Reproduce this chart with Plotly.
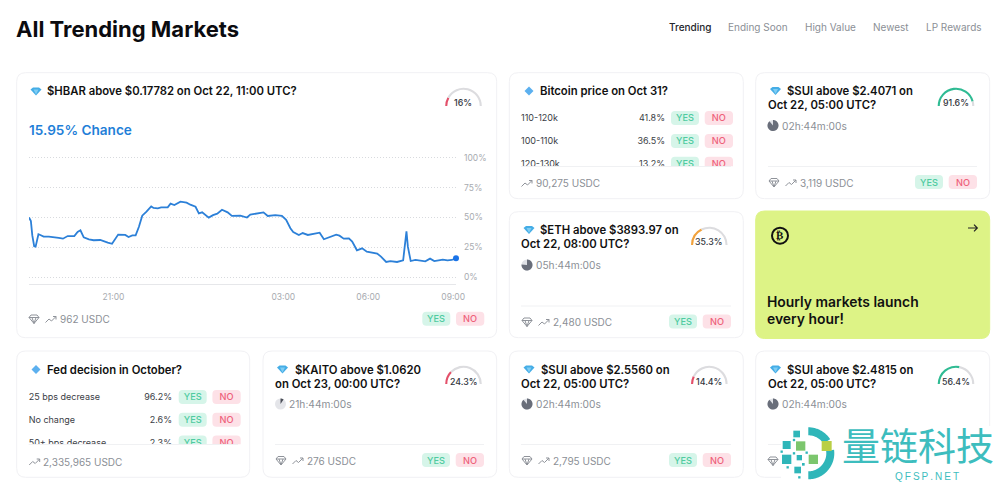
import math
import plotly.graph_objects as go

# hbar chance history
times_oct21 = ["18:01", "18:05", "18:08", "18:12", "18:15", "18:18", "18:21", "18:25", "18:32", "18:43",
               "18:54", "19:04", "19:13", "19:23", "19:37", "19:44", "19:50", "19:57", "20:08", "20:18",
               "20:32", "20:40", "20:48", "20:57", "21:04", "21:10", "21:25", "21:32", "21:40", "21:47",
               "21:54", "22:01", "22:10", "22:20", "22:25", "22:34", "22:41", "22:55", "23:01", "23:09",
               "23:22", "23:35", "23:43", "23:54"]
times_oct22 = ["00:01", "00:08", "00:22", "00:31", "00:40", "00:50", "01:02", "01:11", "01:29", "01:43",
               "01:50", "02:04", "02:18", "02:27", "02:43", "02:57", "03:06", "03:15", "03:21", "03:33",
               "03:41", "03:52", "04:04", "04:17", "04:26", "04:40", "04:52", "04:59", "05:08", "05:19",
               "05:26", "05:36", "05:47", "05:57", "06:08", "06:19", "06:27", "06:38", "06:47", "07:01",
               "07:14", "07:17", "07:21", "07:24", "07:30", "07:40", "07:50", "08:01", "08:11", "08:20",
               "08:29", "08:38", "08:48", "08:57", "09:06"]
chance = [50, 47, 35, 26, 25.6, 31, 36, 35.4, 34, 34,
          33.7, 33, 32.3, 34.5, 34.5, 38, 39.3, 33.4, 31.8, 31,
          31.2, 30.4, 29, 28, 31.8, 35.7, 35.4, 33.7, 35, 35,
          42.3, 51.5, 54.9, 59.3, 58, 57.7, 58.5, 58.5, 61.6, 60.4,
          63.2, 62.4, 60.7, 59,
          53.5, 54.3, 49.9, 52, 53.2, 56.5, 54.3, 51.3, 51.5, 50,
          52.4, 53.2, 54.3, 51.3, 52, 51.3, 48, 41, 37.9, 35.4,
          37, 35.4, 36.2, 37.3, 31.8, 34, 35.7, 34.8, 32.3, 32.6,
          29.8, 22.6, 24.2, 21.4, 20.6, 19.8, 17.3, 12.8, 13.6, 12.8,
          14.2, 22.8, 38.4, 25.6, 13.6, 14.5, 14.2, 13.4, 15.6, 13.6,
          14.2, 14.8, 14.2, 14.5, 15.95]
x_ticks = ["2025-10-21 21:00", "2025-10-22 03:00", "2025-10-22 06:00", "2025-10-22 09:00"]
x_labels = ["21:00", "03:00", "06:00", "09:00"]
y_ticks = [0, 25, 50, 75, 100]
y_labels = ["0%", "25%", "50%", "75%", "100%"]

nav_items = ["Trending", "Ending Soon", "High Value", "Newest", "LP Rewards"]
gauge_values = [16, 91.6, 35.3, 24.3, 14.4, 56.4]
gauge_labels = ["16%", "91.6%", "35.3%", "24.3%", "14.4%", "56.4%"]
btc_rows = ["110-120k", "100-110k", "120-130k"]
btc_pcts = ["41.8%", "36.5%", "13.2%"]
fed_rows = ["25 bps decrease", "No change", "50+ bps decrease"]
fed_pcts = ["96.2%", "2.6%", "2.3%"]

TEAL, GREEN, OLIVE = "#2fb6b9", "#7cc66d", "#b9cf45"
YES_BG, YES_FG, NO_BG, NO_FG = "#d6f5e9", "#4fcba0", "#fde1e7", "#ee6079"
GREY = "#8b8f96"
FONT = "Inter"
TITLE_SIZE = 11.3

shapes = []
notes = []


def rrect(x0, y0, x1, y1, r):
    return (f"M{x0+r},{y0} L{x1-r},{y0} Q{x1},{y0} {x1},{y0+r} L{x1},{y1-r} Q{x1},{y1} {x1-r},{y1} "
            f"L{x0+r},{y1} Q{x0},{y1} {x0},{y1-r} L{x0},{y0+r} Q{x0},{y0} {x0+r},{y0} Z")


def add_path(path, fill=None, line=None, width=1, layer="below"):
    shapes.append(dict(type="path", path=path, xref="x", yref="y", layer=layer,
                       fillcolor=fill or "rgba(0,0,0,0)",
                       line=dict(color=line or "rgba(0,0,0,0)", width=width if line else 0)))


def wedge(cx, cy, r, start, end):
    pts = [(cx + r * math.cos(math.radians(a)), cy + r * math.sin(math.radians(a)))
           for a in [start + (end - start) * i / 40 for i in range(41)]]
    return f"M{cx},{cy} " + " ".join(f"L{x:.2f},{y:.2f}" for x, y in pts) + " Z"


def band(cx, cy, r0, r1, start, end):
    angles = [start + (end - start) * i / 40 for i in range(41)]
    outer = [(cx + r1 * math.cos(math.radians(a)), cy + r1 * math.sin(math.radians(a))) for a in angles]
    inner = [(cx + r0 * math.cos(math.radians(a)), cy + r0 * math.sin(math.radians(a))) for a in reversed(angles)]
    pts = outer + inner
    return f"M{pts[0][0]:.2f},{pts[0][1]:.2f} " + " ".join(f"L{x:.2f},{y:.2f}" for x, y in pts[1:]) + " Z"


def txt(x, y, s, size=11, color="#111", weight=400, anchor="left", family=FONT):
    notes.append(dict(x=x, y=y, xref="x", yref="y", text=s, showarrow=False, xanchor=anchor, yanchor="middle",
                      borderpad=0, borderwidth=0, font=dict(family=family, size=size, color=color, weight=weight)))


def card(x0, y0, x1, y1, fill="white", line="#f1f1f4"):
    add_path(rrect(x0, y0, x1, y1, 9), fill=fill, line=line)


def pills(x, y):
    # x = left edge of YES, y = centre line
    add_path(rrect(x, y - 7, x + 28, y + 7, 4), fill=YES_BG)
    add_path(rrect(x + 33.7, y - 7, x + 62, y + 7, 4), fill=NO_BG)


def pill_text(x, y):
    txt(x + 14, y, "YES", 9.2, YES_FG, 500, "center")
    txt(x + 47.8, y, "NO", 9.2, NO_FG, 500, "center")


def gem(cx, cy):
    add_path(f"M{cx-5.5},{cy-2} L{cx-3},{cy-4} L{cx+3},{cy-4} L{cx+5.5},{cy-2} L{cx},{cy+4} Z", fill="#45ade6")
    add_path(f"M{cx-2.5},{cy-2} L{cx+2.5},{cy-2} L{cx},{cy+3} Z", fill="#7fcdf3")


def small_diamond(cx, cy):
    add_path(f"M{cx},{cy-4.5} L{cx+4.5},{cy} L{cx},{cy+4.5} L{cx-4.5},{cy} Z", fill="#5cb0ef")


def gem_outline(cx, cy):
    add_path(f"M{cx-5},{cy-1.5} L{cx-3},{cy-4} L{cx+3},{cy-4} L{cx+5},{cy-1.5} L{cx},{cy+4.5} Z "
             f"M{cx-5},{cy-1.5} L{cx+5},{cy-1.5} M{cx-2},{cy-1.5} L{cx},{cy+4.5} L{cx+2},{cy-1.5}",
             line="#8f939a", width=1)


def trend(cx, cy):
    add_path(f"M{cx-5.5},{cy+3} L{cx-2},{cy-0.5} L{cx+0.5},{cy+1.5} L{cx+5},{cy-3} M{cx+2},{cy-3} L{cx+5},{cy-3} L{cx+5},{cy}",
             line="#8f939a", width=1)


def clock(cx, cy, dark_share, light="#dfe1e6", dark="#696e7a"):
    shapes.append(dict(type="circle", xref="x", yref="y", x0=cx - 5.5, x1=cx + 5.5, y0=cy - 5.5, y1=cy + 5.5,
                       fillcolor=light, line=dict(width=0), layer="below"))
    add_path(wedge(cx, cy, 5.5, -90, -90 + 360 * dark_share), fill=dark)


def footer(x, y, volume, with_gem=True):
    if with_gem:
        gem_outline(x + 6, y)
        trend(x + 23, y + 0.5)
        txt(x + 31.5, y, volume, 10, GREY)
    else:
        trend(x + 6, y + 0.5)
        txt(x + 14.5, y, volume, 10, GREY)


def divider(x0, x1, y, layer="below"):
    shapes.append(dict(type="line", xref="x", yref="y", x0=x0, x1=x1, y0=y, y1=y, layer=layer,
                       line=dict(color="#f0f1f3", width=1)))


fig = go.Figure()

times = [f"2025-10-21 {t}" for t in times_oct21] + [f"2025-10-22 {t}" for t in times_oct22]

# ---- cards
card(16.7, 72.7, 496.7, 337.7)
card(509.3, 72.7, 743.3, 198.7)
card(755.7, 72.7, 989.7, 198.7)
card(509.3, 211.7, 743.3, 337.7)
card(755.7, 211, 989.7, 338.5, fill="#ddf386", line="#ddf386")
card(16.7, 351, 249.7, 477.3)
card(263, 351, 496.7, 477.3)
card(509.3, 351, 743.3, 477.3)
card(755.7, 351, 989.7, 477.3)

# ---- header
txt(16, 29, "All Trending Markets", 22, "#0b0b0f", 700)
for name, nx, c in zip(nav_items, [669, 728, 805, 873, 926], ["#23252b"] + ["#8b8f96"] * 4):
    txt(nx, 26.5, name, 10, c, 500 if c == "#23252b" else 400)

# ---- HBAR card
gem(36, 91.5)
txt(47, 91, "$HBAR above $0.17782 on Oct 22, 11:00 UTC?", TITLE_SIZE, "#111", 600)
txt(29, 130, "15.95% Chance", 13.6, "#1f7fd8", 600)
footer(28, 319, "962 USDC")
pills(422.3, 318.7)
pill_text(422.3, 318.7)

# ---- Bitcoin and Fed cards, third row gets cut off by the white strip
small_diamond(529, 91)
txt(540, 91, "Bitcoin price on Oct 31?", TITLE_SIZE, "#111", 600)
small_diamond(36, 369.5)
txt(47, 369.5, "Fed decision in October?", TITLE_SIZE, "#111", 600)

clip_left = dict(x=[], y=[], text=[])
clip_right = dict(x=[], y=[], text=[])
clip_yes = dict(x=[], y=[], text=[])
clip_no = dict(x=[], y=[], text=[])
for rows, pcts, lx, px, bx, y_rows in [(btc_rows, btc_pcts, 521, 665, 671, [118, 141, 163.7]),
                                       (fed_rows, fed_pcts, 28.7, 172, 178.7, [397, 419.7, 442.5])]:
    for label, pct, y in zip(rows, pcts, y_rows):
        pills(bx, y)
        clip_left["x"].append(lx); clip_left["y"].append(y + 1); clip_left["text"].append(label)
        clip_right["x"].append(px); clip_right["y"].append(y + 1); clip_right["text"].append(pct)
        clip_yes["x"].append(bx + 14); clip_yes["y"].append(y + 1); clip_yes["text"].append("YES")
        clip_no["x"].append(bx + 47.8); clip_no["y"].append(y + 1); clip_no["text"].append("NO")

for group, pos, color, size, weight in [(clip_left, "middle right", "#3a3d45", 9, 400),
                                        (clip_right, "middle left", "#3a3d45", 9, 400),
                                        (clip_yes, "middle center", YES_FG, 9.2, 500),
                                        (clip_no, "middle center", NO_FG, 9.2, 500)]:
    fig.add_trace(go.Scatter(x=group["x"], y=group["y"], text=group["text"], mode="text", textposition=pos,
                             textfont=dict(family=FONT, size=size, color=color, weight=weight),
                             xaxis="x", yaxis="y", cliponaxis=False, hoverinfo="skip"))

for x0, x1, y0, y1 in [(515, 737, 166.3, 173), (22, 244, 444.3, 451)]:
    shapes.append(dict(type="rect", xref="x", yref="y", x0=x0, x1=x1, y0=y0, y1=y1, fillcolor="white",
                       line=dict(width=0), layer="above"))
divider(521, 731, 166.5, "above")
divider(28.7, 238, 444.5, "above")
footer(521, 183, "90,275 USDC", with_gem=False)
footer(28.7, 461.5, "2,335,965 USDC", with_gem=False)

# ---- question cards
questions = [
    (775.5, 91, 787, "$SUI above $2.4071 on", 768, "Oct 22, 05:00 UTC?", 773, 125.5, "02h:44m:00s", 0.886, "3,119 USDC", 915, 166.5),
    (529, 230, 540, "$ETH above $3893.97 on", 521, "Oct 22, 08:00 UTC?", 527, 265, "05h:44m:00s", 0.761, "2,480 USDC", 669, 306),
    (282.5, 369.5, 294.5, "$KAITO above $1.0620", 275, "on Oct 23, 00:00 UTC?", 280.5, 404, "21h:44m:00s", 0.095, "276 USDC", 422, 444.5),
    (529, 369.5, 540.5, "$SUI above $2.5560 on", 521, "Oct 22, 05:00 UTC?", 527, 404, "02h:44m:00s", 0.886, "2,795 USDC", 669, 444.5),
]
for gx, gy, tx, line1, lx, line2, cx, cy, left, share, volume, bx, dy in questions:
    gem(gx, gy)
    txt(tx, gy, line1, TITLE_SIZE, "#111", 600)
    txt(lx, gy + 14, line2, TITLE_SIZE, "#111", 600)
    if share < 0.2:
        clock(cx, cy, share, light="#e4e5e9", dark="#4b4f59")
    else:
        clock(cx, cy, share)
    txt(cx + 8.5, cy, left, 10.2, GREY)
    divider(lx, bx + 62, dy)
    fy = dy + 16
    footer(lx, fy, volume)
    pills(bx, fy - 0.5)
    pill_text(bx, fy - 0.5)

# last card, the rest of its footer sits under the watermark
gem(775.5, 369.5)
txt(787, 369.5, "$SUI above $2.4815 on", TITLE_SIZE, "#111", 600)
txt(768, 383.5, "Oct 22, 05:00 UTC?", TITLE_SIZE, "#111", 600)
clock(773, 404, 0.886)
txt(782, 404, "02h:44m:00s", 10.2, GREY)
divider(768, 977, 444.5)
gem_outline(773, 461)

# ---- lime promo card
shapes.append(dict(type="circle", xref="x", yref="y", x0=772, x1=788, y0=227.7, y1=243.7,
                   line=dict(color="#111", width=2), fillcolor="rgba(0,0,0,0)", layer="below"))
txt(780, 235.7, "₿", 11, "#111", 700, "center", "DejaVu Sans")
add_path("M968,228 L977,228 M974,224.7 L977.3,228 L974,231.3", line="#222", width=1.2)
txt(766.5, 302, "Hourly markets launch", 13.9, "#111", 600)
txt(766.5, 319, "every hour!", 13.9, "#111", 600)

# ---- the chart traces sit on x2/y2, that subplot draws over the page axes
fig.add_trace(go.Scatter(x=times, y=chance, mode="lines", line=dict(color="#2c80d8", width=1.8),
                         xaxis="x2", yaxis="y2", cliponaxis=False, hoverinfo="skip"))
fig.add_trace(go.Scatter(x=times[-1:], y=chance[-1:], mode="markers", marker=dict(color="#1a73e8", size=6),
                         xaxis="x2", yaxis="y2", cliponaxis=False, hoverinfo="skip"))

# ---- gauges, half donuts over the cards
gauge_spots = [(463.5, 106), (956, 106), (709.3, 245), (463.5, 384), (709.3, 384), (956, 384)]
gauge_text_y = [102, 102, 241, 381, 381, 381]
R = 18.3
for val, label, (gx, gy), ty in zip(gauge_values, gauge_labels, gauge_spots, gauge_text_y):
    if val < 25:
        color = "#e3506a"
    elif val < 50:
        color = "#f2a23c"
    else:
        color = "#2fbb93"
    fig.add_trace(go.Pie(values=[val, 100 - val, 100], sort=False, direction="clockwise", rotation=-90, hole=0.885,
                         textinfo="none", hoverinfo="skip", showlegend=False,
                         marker=dict(colors=[color, "#dcdcdf", "rgba(0,0,0,0)"], line=dict(width=0)),
                         domain=dict(x=[(gx - R) / 1000, (gx + R) / 1000],
                                     y=[1 - (gy + R) / 485, 1 - (gy - R) / 485])))
    txt(gx - 0.5, ty, label, 8.8, "#33363d", 500, "center")

# ---- watermark block in the corner
shapes.append(dict(type="rect", xref="x", yref="y", x0=781, x1=1000, y0=426, y1=485, fillcolor="white",
                   line=dict(width=0), layer="above"))
add_path(band(808.3, 453.3, 18, 26, -90, -33), fill=TEAL, layer="above")
add_path(band(808.3, 453.3, 18, 26, -8, 90), fill=TEAL, layer="above")
squares = [(80, 42, 20, TEAL), (50, 75, 24, TEAL), (92, 78, 28, GREEN), (170, 78, 30, OLIVE), (50, 118, 28, TEAL),
           (88, 113, 16, TEAL), (130, 118, 28, GREEN), (83, 150, 20, TEAL), (100, 133, 8, TEAL), (35, 95, 7, TEAL),
           (72, 100, 7, TEAL), (72, 60, 7, TEAL), (53, 142, 7, TEAL), (110, 98, 7, TEAL), (88, 172, 7, TEAL)]
for sx, sy, ss, sc in squares:
    px, py, half = 770 + sx / 3, 420 + sy / 3, ss / 6
    shapes.append(dict(type="rect", xref="x", yref="y", x0=px - half, x1=px + half, y0=py - half, y1=py + half,
                       fillcolor=sc, line=dict(width=0), layer="above"))
txt(917.5, 443, "量链科技", 38, "#3dbdbe", 400, "center", "Noto Sans CJK SC")
txt(927, 476, "Q\u2009F\u2009S\u2009P\u2009.\u2009N\u2009E\u2009T", 10, "#3dbdbe", 400, "center", "Liberation Sans")

fig.update_layout(
    width=1000, height=485, margin=dict(l=0, r=0, t=0, b=0, autoexpand=False), autosize=False, showlegend=False,
    paper_bgcolor="white", plot_bgcolor="rgba(0,0,0,0)", font=dict(family=FONT),
    shapes=shapes, annotations=notes,
    xaxis=dict(domain=[0, 1], range=[0, 1000], visible=False, anchor="y", fixedrange=True),
    yaxis=dict(domain=[0, 1], range=[485, 0], visible=False, anchor="x", fixedrange=True),
    xaxis2=dict(domain=[0.029, 0.456], range=["2025-10-21 18:01", "2025-10-22 09:06"], type="date",
                tickvals=x_ticks, ticktext=x_labels, tickfont=dict(size=8.5, color="#a8abb0"),
                ticks="", ticklabelstandoff=4, showgrid=False, showline=True, linecolor="#e6e7ea", linewidth=1,
                zeroline=False, anchor="y2"),
    yaxis2=dict(domain=[1 - 284.3 / 485, 1 - 155 / 485], range=[-5.85, 102.26], side="right", anchor="x2",
                tickvals=y_ticks, ticktext=y_labels, tickfont=dict(size=8.5, color="#a8abb0"),
                ticks="", ticklabelstandoff=7, showgrid=True, griddash="1px,2px", gridcolor="#d8dade", gridwidth=1,
                zeroline=False, showline=False),
)

fig.write_html("out.html", config=dict(displayModeBar=False),
               post_script="document.body.style.margin='0';document.body.style.overflow='hidden';")
